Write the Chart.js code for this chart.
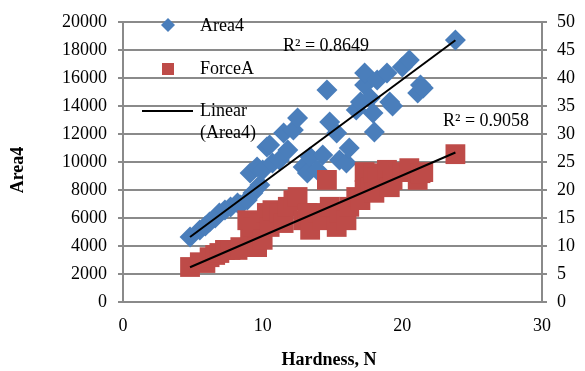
<!DOCTYPE html>
<html><head><meta charset="utf-8">
<script src="https://cdn.jsdelivr.net/npm/chart.js@4/dist/chart.umd.min.js"></script>
<style>html,body{margin:0;padding:0;background:#fff}#wrap{width:585px;height:371px;position:relative}</style>
</head><body><div id="wrap"><canvas id="c" width="585" height="371"></canvas></div>
<script>
// ---- data ----
const hardness = [4.8,5.5,5.9,6.2,6.6,6.9,7.3,7.7,8.2,8.4,8.9,9.1,9.3,9.6,9.8,10.0,10.3,10.5,10.7,11.2,11.5,11.8,12.2,12.5,12.9,13.2,13.4,13.9,14.3,14.6,14.8,15.3,15.5,16.0,16.2,16.7,17.0,17.3,17.3,17.7,17.9,18.0,18.2,18.9,19.1,19.3,20.0,20.5,21.1,21.3,21.5,23.8];
const area4 = [4640,5140,5430,5710,6000,6360,6570,6790,7070,6930,7290,9210,7790,9640,8360,9430,11070,11210,9930,10140,12070,10860,12290,13140,9640,9210,10360,9430,10500,15140,12860,12070,10140,9930,11000,13710,14290,15500,16360,14570,13500,12140,15860,16360,14290,14000,16790,17290,14930,15500,15290,18714];
const forceA = [6.25,7.1,6.96,8.0,8.4,8.75,9.3,9.3,9.3,9.8,14.6,11.1,13.4,9.8,14.1,11.1,15.9,13.4,16.4,15.9,14.1,17.0,18.2,18.75,14.6,15.9,12.9,15.9,14.6,21.8,17.0,13.4,15.9,14.6,17.0,18.75,18.2,23.2,20.0,20.5,23.0,19.5,22.3,23.6,20.5,21.8,23.2,23.9,21.8,23.0,23.2,26.4];
const trendX = [4.8, 23.8];
const trendArea4 = [4640, 18700];
const trendForceA = [6.2, 26.7];
const r2Labels = ['R\u00b2 = 0.8649', 'R\u00b2 = 0.9058'];
const seriesNames = ['Area4', 'ForceA', 'Linear', '(Area4)'];
const xTitle = 'Hardness, N';
const yTitle = 'Area4';

const BLUE = '#4A7EBB', RED = '#BE4B48', GRID = '#8a8a8a';
const FONT = 'Liberation Serif';

function pts(xs, ys){ return xs.map((x,i)=>({x:x,y:ys[i]})); }
const plain = v => String(v);

const overlay = {
  id:'overlay',
  afterDraw(chart){
    const ctx = chart.ctx;
    ctx.save();
    ctx.fillStyle = '#000';
    ctx.textBaseline = 'middle';
    ctx.font = '18px "' + FONT + '"';
    // R² labels
    ctx.textAlign = 'left';
    ctx.fillText(r2Labels[0], 283, 46);
    ctx.fillText(r2Labels[1], 443, 121);
    // legend
    ctx.fillStyle = BLUE;
    ctx.beginPath(); ctx.moveTo(168,18); ctx.lineTo(175,25); ctx.lineTo(168,32); ctx.lineTo(161,25); ctx.closePath(); ctx.fill();
    ctx.fillStyle = RED;
    ctx.fillRect(162,63,12,12);
    ctx.strokeStyle = '#000'; ctx.lineWidth = 2;
    ctx.beginPath(); ctx.moveTo(142,111); ctx.lineTo(193,111); ctx.stroke();
    ctx.fillStyle = '#000';
    ctx.fillText(seriesNames[0], 200, 26);
    ctx.fillText(seriesNames[1], 200, 69);
    ctx.fillText(seriesNames[2], 200, 111);
    ctx.fillText(seriesNames[3], 200, 133);
    // axis titles
    ctx.font = 'bold 18px "' + FONT + '"';
    ctx.textAlign = 'center';
    ctx.fillText(xTitle, 329, 360);
    ctx.translate(18, 170); ctx.rotate(-Math.PI/2);
    ctx.fillText(yTitle, 0, 0);
    ctx.restore();
  }
};

new Chart(document.getElementById('c'), {
  type: 'scatter',
  data: {
    datasets: [
      {label:'Linear (Area4)', data: pts(trendX, trendArea4), yAxisID:'y', showLine:true, borderColor:'#000', borderWidth:2, pointRadius:0, order:0},
      {label:'Linear (ForceA)', data: pts(trendX, trendForceA), yAxisID:'y1', showLine:true, borderColor:'#000', borderWidth:2, pointRadius:0, order:0},
      {label:'ForceA', data: pts(hardness, forceA), yAxisID:'y1', pointStyle:'rect', radius:14, backgroundColor:RED, borderWidth:0, order:1},
      {label:'Area4', data: pts(hardness, area4), yAxisID:'y', pointStyle:'rectRot', radius:10.5, backgroundColor:BLUE, borderWidth:0, order:2}
    ]
  },
  options: {
    responsive:false, animation:false, devicePixelRatio:1,
    layout:{padding:{top:22,left:0,right:0,bottom:0}},
    plugins:{legend:{display:false}, tooltip:{enabled:false}},
    elements:{point:{hoverRadius:0}},
    scales:{
      x:{type:'linear', min:0, max:30, position:'bottom',
         ticks:{stepSize:10, color:'#000', font:{family:FONT,size:18}, padding:5, maxRotation:0, callback:plain},
         grid:{display:false}, border:{display:true,color:GRID,width:2},
         afterFit(s){ s.height = 69; }},
      y:{type:'linear', min:0, max:20000, position:'left',
         ticks:{stepSize:2000, color:'#000', font:{family:FONT,size:18}, padding:11, callback:plain},
         grid:{color:GRID, lineWidth:2, tickLength:5}, border:{display:true,color:GRID,width:2},
         afterFit(s){ s.width = 123; }},
      y1:{type:'linear', min:0, max:50, position:'right',
         ticks:{stepSize:5, color:'#000', font:{family:FONT,size:18}, padding:10, callback:plain},
         grid:{drawOnChartArea:false, color:GRID, lineWidth:2, tickLength:5}, border:{display:true,color:GRID,width:2},
         afterFit(s){ s.width = 43; }}
    }
  },
  plugins:[overlay]
});
</script></body></html>
